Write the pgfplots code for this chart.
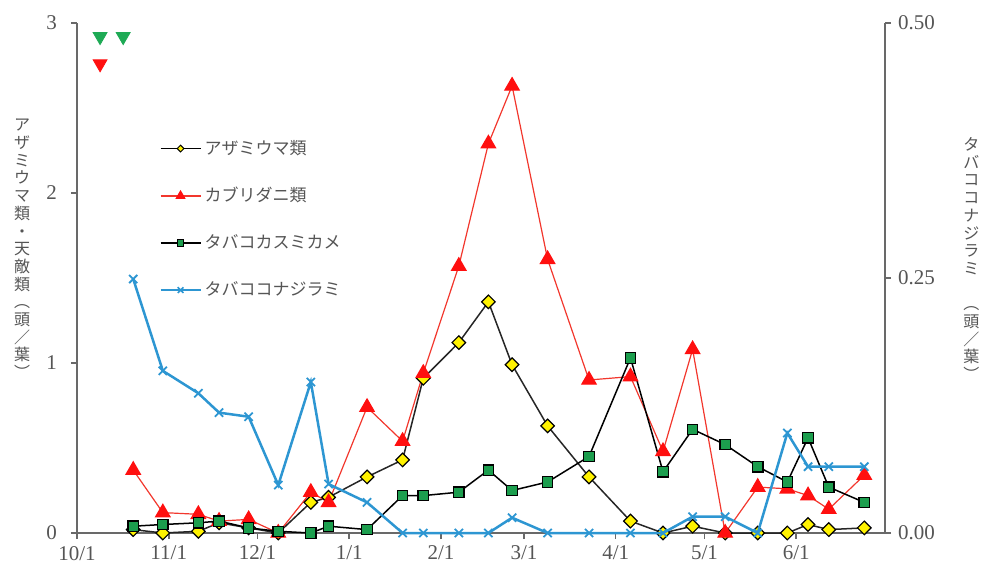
\documentclass[border=0pt]{standalone}
\usepackage{fontspec}
\setmainfont{Liberation Serif}
\newfontfamily\jp{Noto Sans CJK JP}
\usepackage{pgfplots}
\usepackage{pgfplotstable}
\pgfplotsset{compat=1.18}

\definecolor{axisgray}{RGB}{105,105,105}
\definecolor{textgray}{RGB}{85,85,85}
\definecolor{mitered}{RGB}{255,15,15}
\definecolor{miteline}{RGB}{242,55,45}
\definecolor{buggreen}{RGB}{28,158,78}
\definecolor{flyblue}{RGB}{45,150,210}
\definecolor{markgreen}{RGB}{30,170,85}

% day = days after 1 October
\pgfplotstableread{
day thrips mites bug  whitefly
19  0.02   0.37  0.04 0.249
29  0.00   0.12  0.05 0.159
41  0.01   0.11  0.06 0.137
48  0.06   0.07  0.07 0.118
58  0.03   0.08  0.03 0.114
68  0.00   0.00  0.01 0.047
79  0.18   0.24  0.00 0.148
85  0.21   0.18  0.04 0.048
98  0.33   0.74  0.02 0.030
110 0.43   0.54  0.22 0.000
117 0.91   0.94  0.22 0.000
129 1.12   1.57  0.24 0.000
139 1.36   2.29  0.37 0.000
147 0.99   2.63  0.25 0.015
159 0.63   1.61  0.30 0.000
173 0.33   0.90  0.45 0.000
187 0.07   0.92  1.03 0.000
198 0.00   0.48  0.36 0.000
208 0.04   1.08  0.61 0.016
219 0.00   0.00  0.52 0.016
230 0.00   0.27  0.39 0.000
240 0.00   0.26  0.30 0.098
247 0.05   0.22  0.56 0.065
254 0.02   0.14  0.27 0.065
266 0.03   0.34  0.18 0.065
}\survey

% treatment marks at the top
\pgfplotstableread{
day y
7.8  2.92
15.6 2.92
}\releases
\pgfplotstableread{
day y
7.8 2.76
}\sprays

\tikzset{
  vlabel/.style={rotate=-90, align=center, anchor=center,
    font=\jp\fontsize{8}{8.85}\selectfont, text=textgray},
}
\pgfplotsset{
  base/.style={
    width=404pt, height=255pt, scale only axis,
    xmin=0, xmax=273, ymin=0,
    clip=false,
    axis line style={axisgray, line width=1pt},
    tick style={axisgray, line width=0.8pt},
    tick align=outside,
    major tick length=3pt,
    tick label style={textgray, font=\fontsize{10.5}{12}\selectfont},
    /pgf/number format/assume math mode=true,
  },
}

\begin{document}
\begin{tikzpicture}
\begin{axis}[base,
  ymax=3, ytick={0,1,2,3},
  yticklabel style={xshift=-3.5pt},
  axis y line*=left, axis x line*=bottom,
  xtick={0,31,61,92,123,151,182,212,243},
  xticklabels={10/1,11/1,12/1,1/1,2/1,3/1,4/1,5/1,6/1},
  ylabel={ア\\ザ\\ミ\\ウ\\マ\\類\\・\\天\\敵\\類\\︵\\頭\\／\\葉\\︶},
  ylabel style={vlabel, at={(axis description cs:-0.068,0.557)}},
  legend image code/.code={
    \draw[mark repeat=2, mark phase=2, #1]
      plot coordinates {(0pt,0pt) (10pt,0pt) (20pt,0pt)};
  },
  legend cell align=left,
  legend style={draw=none, fill=none, anchor=north west,
    at={(rel axis cs:0.094,0.785)}, row sep=12pt,
    font=\jp\fontsize{8.5}{10}\selectfont, text=textgray,
    nodes={inner sep=1.5pt}},
]
\addlegendimage{black, line width=0.7pt, mark=square*, mark size=1.2pt,
  mark options={rotate=45, fill=yellow, draw=black, line width=0.5pt}}
\addlegendentry{アザミウマ類}
\addlegendimage{miteline, line width=0.6pt, mark=triangle*, mark size=2.4pt,
  mark options={fill=mitered, draw=mitered}}
\addlegendentry{カブリダニ類}
\addlegendimage{black, line width=0.7pt, mark=square*, mark size=1.6pt,
  mark options={fill=buggreen, draw=black, line width=0.5pt}}
\addlegendentry{タバコカスミカメ}
\addlegendimage{flyblue, line width=1.2pt, mark=x, mark size=2pt,
  mark options={line width=0.8pt}}
\addlegendentry{タバココナジラミ}

\addplot[forget plot, black!85, line width=0.75pt, mark=square*, mark size=2.4pt,
  mark options={rotate=45, fill=yellow, draw=black, line width=0.6pt}]
  table[x=day, y=thrips] {\survey};
\addplot[forget plot, miteline, line width=0.6pt, mark=triangle*, mark size=4.1pt,
  mark options={fill=mitered, draw=mitered}]
  table[x=day, y=mites] {\survey};
\addplot[forget plot, black, line width=0.75pt, mark=square*, mark size=2.6pt,
  mark options={fill=buggreen, draw=black, line width=0.6pt}]
  table[x=day, y=bug] {\survey};

\addplot[forget plot, only marks, mark=triangle*, mark size=4pt,
  mark options={rotate=180, fill=markgreen, draw=markgreen}]
  table[x=day, y=y] {\releases};
\addplot[forget plot, only marks, mark=triangle*, mark size=4pt,
  mark options={rotate=180, fill=mitered, draw=mitered}]
  table[x=day, y=y] {\sprays};
\end{axis}

\begin{axis}[base,
  ymax=0.5, ytick={0,0.25,0.5},
  axis y line*=right, axis x line=none,
  yticklabel style={/pgf/number format/fixed,
    /pgf/number format/fixed zerofill, /pgf/number format/precision=2},
  ylabel={タ\\バ\\コ\\コ\\ナ\\ジ\\ラ\\ミ\\　\\︵\\頭\\／\\葉\\︶},
  ylabel style={vlabel, at={(axis description cs:1.107,0.537)}},
]
\addplot[flyblue, line width=1.25pt, mark=x, mark size=2.9pt,
  mark options={line width=0.9pt}]
  table[x=day, y=whitefly] {\survey};
\end{axis}

\pgfresetboundingbox
\path (-38.5pt,-20.5pt) rectangle (452pt,266.5pt);
\end{tikzpicture}
\end{document}
